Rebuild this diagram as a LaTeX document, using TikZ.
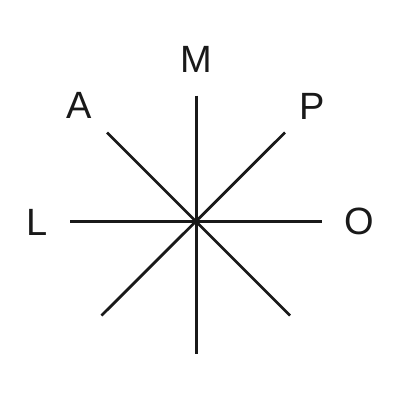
\documentclass[tikz,border=0pt]{standalone}
\usepackage{fontspec}
\setmainfont{Liberation Sans}
\definecolor{ink}{RGB}{25,25,25}
\begin{document}
\begin{tikzpicture}[x=0.75pt,y=-0.75pt,
  ray/.style={draw=ink,line width=2.25pt},
  diag/.style={draw=ink,line width=2.1pt},
  lbl/.style={text=ink,font=\fontsize{28.5}{30}\selectfont,inner sep=0pt,anchor=center}]
\useasboundingbox (0,0) rectangle (400,400);
\coordinate (c) at (196.5,221.5);
\coordinate (n) at (196.5,95.5);
\coordinate (s) at (196.5,354);
\coordinate (w) at (70,221.5);
\coordinate (e) at (322,221.5);
\coordinate (nw) at (107,132.5);
\coordinate (se) at (290,315.5);
\coordinate (ne) at (285,132.5);
\coordinate (sw) at (101.5,315.5);
\draw[ray] (n) -- (s);
\draw[ray] (w) -- (e);
\draw[diag] (nw) -- (se);
\draw[diag] (ne) -- (sw);
\node[lbl] (M) at (196,59.5) {M};
\node[lbl] (A) at (79.5,105) {A};
\node[lbl] (P) at (312,106) {P};
\node[lbl] (L) at (37,222.5) {L};
\node[lbl] (O) at (359,221.5) {O};
\end{tikzpicture}
\end{document}
